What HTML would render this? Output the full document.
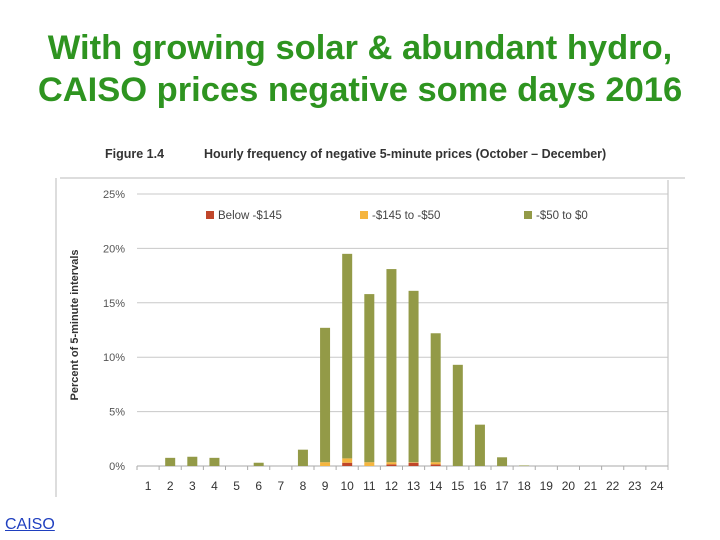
<!DOCTYPE html>
<html><head><meta charset="utf-8"><style>
body{margin:0;width:720px;height:540px;background:#fff;overflow:hidden;position:relative;font-family:"Liberation Sans",sans-serif}
.title{position:absolute;left:0;width:720px;top:27px;text-align:center;color:#2e9420;font-weight:bold;font-size:34.5px;line-height:42px;white-space:nowrap}
.src{position:absolute;left:5px;top:516px;color:#1f3fbf;font-size:16px;text-decoration:underline}
</style></head><body>
<div class="title">With growing solar &amp; abundant hydro,<br>CAISO prices negative some days 2016</div>
<svg id="chart" width="720" height="540" style="position:absolute;left:0;top:0"></svg>
<a class="src">CAISO</a>
<script>
const hours=[1,2,3,4,5,6,7,8,9,10,11,12,13,14,15,16,17,18,19,20,21,22,23,24];
const below145=[0,0,0,0,0,0,0,0,0,0.3,0,0.15,0.3,0.15,0,0,0,0,0,0,0,0,0,0];
const mid145to50=[0,0,0,0,0,0,0,0,0.35,0.4,0.35,0.2,0.05,0.2,0,0,0,0,0,0,0,0,0,0];
const neg50to0=[0,0.75,0.85,0.75,0,0.3,0,1.5,12.35,18.8,15.45,17.75,15.75,11.85,9.3,3.8,0.8,0.05,0,0,0,0,0,0];
const yTicks=[0,5,10,15,20,25];
const seriesNames=["Below -$145","-$145 to -$50","-$50 to $0"];
const colors=["#c0462a","#f5b53f","#939a47"];
const svg=document.getElementById('chart');
const NS='http://www.w3.org/2000/svg';
const x0=137,x1=668,yb=466,yt=194;
const step=(x1-x0)/24;
const xC=i=>x0+step*(i+0.5);
const yS=v=>yb-(v/25)*(yb-yt);
function mk(t,a,txt){const e=document.createElementNS(NS,t);for(const k in a)e.setAttribute(k,a[k]);if(txt!==undefined)e.textContent=txt;svg.appendChild(e);return e;}
let e;
e=mk('line',{x1:60,y1:178,x2:685,y2:178,stroke:'#bbb'});


e=mk('line',{x1:56,y1:178,x2:56,y2:497,stroke:'#bbb'});


e=mk('line',{x1:x1,y1:180,x2:x1,y2:470,stroke:'#bbb'});


e=mk('text',{x:105,y:158,'font-size':12.5,'font-weight':'bold',fill:'#333'},'Figure 1.4');


e=mk('text',{x:204,y:158,'font-size':12.5,'font-weight':'bold',fill:'#333'},'Hourly frequency of negative 5-minute prices (October \u2013 December)');


yTicks.forEach(t=>{
  if(t>0){e=mk('line',{x1:x0,y1:yS(t),x2:x1,y2:yS(t),stroke:'#c8c8c8'});
  
  }
  e=mk('text',{x:125,y:yS(t)+4,'font-size':11,fill:'#555','text-anchor':'end'},t+'%');
  
  
});
e=mk('line',{x1:x0,y1:yb,x2:x1,y2:yb,stroke:'#aaa'});


e=mk('text',{x:78,y:325,'font-size':11,'font-weight':'bold',fill:'#333','text-anchor':'middle',transform:'rotate(-90 78 325)'},'Percent of 5-minute intervals');


hours.forEach((h,i)=>{
  e=mk('line',{x1:x0+step*i,y1:yb,x2:x0+step*i,y2:yb+4,stroke:'#aaa'});
  
  
  e=mk('text',{x:xC(i),y:490,'font-size':12,fill:'#333','text-anchor':'middle'},h);
  
  
  let base=0;
  [below145,mid145to50,neg50to0].forEach((s,k)=>{
    const v=s[i]; if(v<=0)return;
    e=mk('rect',{x:xC(i)-5,y:yS(base+v),width:10,height:yS(base)-yS(base+v),fill:colors[k]});
    
    
    base+=v;
  });
});
const lx=[206,360,524];
seriesNames.forEach((n,k)=>{
  e=mk('rect',{x:lx[k],y:211,width:8,height:8,fill:colors[k]});
  
  
  e=mk('text',{x:lx[k]+12,y:219,'font-size':11.5,fill:'#444'},n);
  
  
});
</script>
</body></html>
